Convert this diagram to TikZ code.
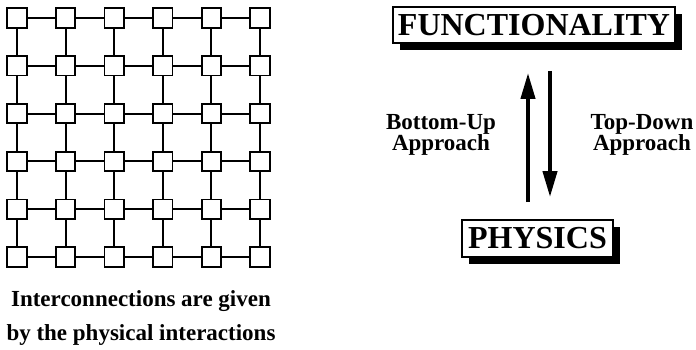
\documentclass[tikz,border=0pt]{standalone}
\usepackage{fontspec}
\setmainfont{Liberation Serif}
\usetikzlibrary{arrows.meta, positioning, shadows}

\begin{document}
\begin{tikzpicture}[x=1pt, y=-1pt,
    cell/.style={draw, line width=1.8pt, minimum size=19.5pt, inner sep=0pt, fill=white},
    link/.style={line width=1.9pt},
    title/.style={draw, line width=1.8pt, fill=white, inner xsep=4pt, inner ysep=0pt,
                  font=\fontsize{32}{32}\selectfont\bfseries,
                  drop shadow={shadow xshift=7pt, shadow yshift=-7pt, fill=black, opacity=1}},
    lbl/.style={font=\fontsize{23}{21}\selectfont\bfseries, align=center},
    flow/.style={line width=4pt, -{Triangle[length=26pt, width=14pt]}}
  ]
  \useasboundingbox (0,0) rectangle (696,349);

  % Grid of cells
  \foreach \i in {0,...,5}
    \foreach \j in {0,...,5}
      \node[cell] (c-\i-\j) at (17+48.6*\i, 18+47.8*\j) {};

  % Links between neighbours
  \foreach \i [evaluate=\i as \k using int(\i+1)] in {0,...,4}
    \foreach \j in {0,...,5} {
      \draw[link] (c-\i-\j) -- (c-\k-\j);
      \draw[link] (c-\j-\i) -- (c-\j-\k);
    }

  \node[lbl, font=\fontsize{23}{34}\selectfont\bfseries] (caption) at (141,318)
       {Interconnections are given\\by the physical interactions};

  % Levels
  \node[title, minimum width=282pt, minimum height=36pt] (func) at (534,25) {FUNCTIONALITY};
  \node[title, minimum width=151pt, minimum height=37pt] (phys) at (537.5,238.5) {PHYSICS};

  % Approaches
  \draw[flow, shorten <=17pt, shorten >=29pt] (phys.north -| 528,0) -- (func.south -| 528,0);
  \draw[flow, shorten <=27pt, shorten >=22pt] (func.south -| 550,0) -- (phys.north -| 550,0);
  \node[lbl] (bu) at (441,135) {Bottom-Up\\Approach};
  \node[lbl] (td) at (642,135) {Top-Down\\Approach};
\end{tikzpicture}
\end{document}
